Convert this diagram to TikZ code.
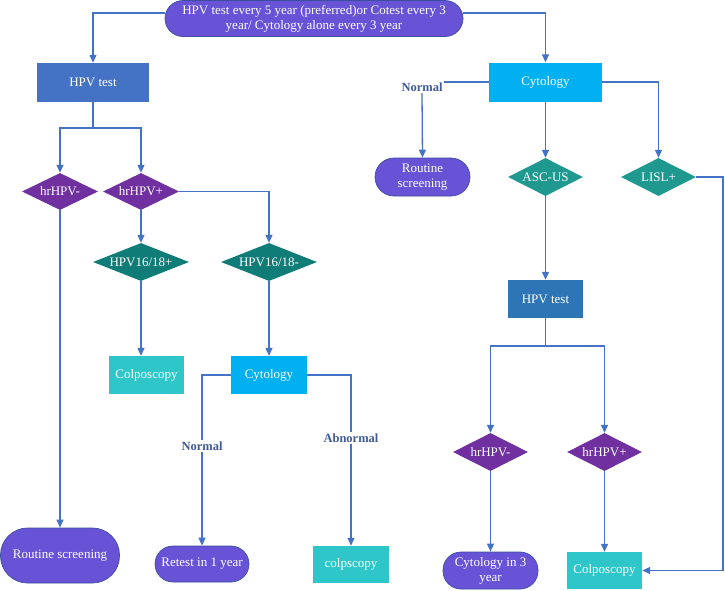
\documentclass[tikz,border=0pt]{standalone}
\usepackage{fontspec}
\setmainfont{Liberation Serif}
\usetikzlibrary{arrows.meta,shapes.geometric}
\definecolor{lineblue}{RGB}{68,114,196}
\definecolor{termfill}{RGB}{104,82,214}
\definecolor{termdraw}{RGB}{60,78,160}
\definecolor{purp}{RGB}{112,48,160}
\definecolor{tealdark}{RGB}{16,124,120}
\definecolor{teallight}{RGB}{31,152,144}
\definecolor{turq}{RGB}{46,198,200}
\definecolor{cyan}{RGB}{0,176,240}
\definecolor{hpvblue}{RGB}{68,114,196}
\definecolor{hpvblueb}{RGB}{46,117,182}
\definecolor{lblcol}{RGB}{63,90,150}
\tikzset{
  every node/.style={font=\fontsize{13}{15}\selectfont},
  boxnode/.style={rectangle, text=white, inner sep=1pt, align=center},
  termnode/.style={rectangle, text=white, fill=termfill, draw=termdraw, line width=0.7pt, inner sep=1pt, align=center},
  dianode/.style={diamond, aspect=2.5, text=white, inner sep=0pt, align=center},
  conn/.style={draw=lineblue, line width=1.3pt},
  arr/.style={conn, -{Triangle[length=8pt,width=7pt]}},
  lblnode/.style={text=lblcol, font=\fontsize{12.5}{15}\selectfont\bfseries, fill=white, inner sep=1.5pt}
}
\begin{document}
\begin{tikzpicture}[x=1pt,y=-1pt]
\useasboundingbox (0,0) rectangle (725,590);
% nodes
\node[termnode, minimum width=298pt, minimum height=36pt, rounded corners=18pt] (top) at (314,18.5) {HPV test every 5 year (preferred)or Cotest every 3\\year/ Cytology alone every 3 year};
\node[boxnode, fill=hpvblue, minimum width=112pt, minimum height=39pt] (hpvA) at (93,82.5) {HPV test};
\node[boxnode, fill=cyan, minimum width=113pt, minimum height=39pt] (cytoR) at (545.5,82) {Cytology};
\node[dianode, fill=purp, minimum width=76pt, minimum height=37pt] (negA) at (60,191.5) {hrHPV-};
\node[dianode, fill=purp, minimum width=76pt, minimum height=37pt] (posA) at (141,191.5) {hrHPV+};
\node[dianode, fill=tealdark, minimum width=96pt, minimum height=38pt] (hpvp) at (141,262) {HPV16/18+};
\node[dianode, fill=tealdark, minimum width=96pt, minimum height=38pt] (hpvn) at (269,262) {HPV16/18-};
\node[boxnode, fill=turq, minimum width=75pt, minimum height=38pt] (colpA) at (146.5,375) {Colposcopy};
\node[boxnode, fill=cyan, minimum width=76pt, minimum height=38pt] (cytoL) at (269,375) {Cytology};
\node[termnode, minimum width=119pt, minimum height=55pt, rounded corners=27pt] (routA) at (60,555.5) {Routine screening};
\node[termnode, minimum width=94pt, minimum height=36pt, rounded corners=18pt] (retest) at (202,564) {Retest in 1 year};
\node[boxnode, fill=turq, minimum width=76pt, minimum height=37pt] (colpB) at (351,564.5) {colpscopy};
\node[termnode, minimum width=95pt, minimum height=38pt, rounded corners=19pt] (routB) at (422.5,177) {Routine\\screening};
\node[dianode, fill=teallight, minimum width=75pt, minimum height=38pt] (ascus) at (545.5,177) {ASC-US};
\node[dianode, fill=teallight, minimum width=75pt, minimum height=38pt] (lisl) at (658.5,177) {LISL+};
\node[boxnode, fill=hpvblueb, minimum width=75pt, minimum height=38pt] (hpvB) at (545.5,299) {HPV test};
\node[dianode, fill=purp, minimum width=75pt, minimum height=38pt] (negB) at (490.5,452) {hrHPV-};
\node[dianode, fill=purp, minimum width=75pt, minimum height=38pt] (posB) at (604.5,452) {hrHPV+};
\node[termnode, minimum width=95pt, minimum height=37pt, rounded corners=18pt] (cyto3) at (490.5,570.5) {Cytology in 3\\year};
\node[boxnode, fill=turq, minimum width=75pt, minimum height=37pt] (colpC) at (604.5,570.5) {Colposcopy};
\coordinate (splitA) at (93,128);
\coordinate (splitB) at (545.5,346);
\coordinate (rturn) at (723,177);
% connectors
\draw[arr] ([yshift=5.5pt]top.west) -| (hpvA.north);
\draw[arr] ([yshift=5.5pt]top.east) -| (cytoR.north);
\draw[conn] (hpvA.south) -- (splitA);
\draw[arr] (splitA) -| (negA.north);
\draw[arr] (splitA) -| (posA.north);
\draw[arr] (posA.east) -| (hpvn.north);
\draw[arr] (posA.south) -- (hpvp.north);
\draw[arr] (negA.south) -- (routA.north);
\draw[arr] (hpvp.south) -- (hpvp.south |- colpA.north);
\draw[arr] (hpvn.south) -- (cytoL.north);
\draw[arr] (cytoL.west) -| (retest.north);
\draw[arr] (cytoL.east) -| (colpB.north);
\node[lblnode] (nl) at (202,446) {Normal};
\node[lblnode] (ab) at (351,438) {Abnormal};
\node[lblnode, fill=none] (nr) at (422,87) {Normal};
\draw[conn] (cytoR.west) -- (cytoR.west -| nr.east);
\draw[arr] (nr.south) -- (routB.north);
\draw[arr] (cytoR.south) -- (ascus.north);
\draw[arr] (cytoR.east) -| (lisl.north);
\draw[arr] (lisl.east) -- (rturn) |- (colpC.east);
\draw[arr] (ascus.south) -- (hpvB.north);
\draw[conn] (hpvB.south) -- (splitB);
\draw[arr] (splitB) -| (negB.north);
\draw[arr] (splitB) -| (posB.north);
\draw[arr] (negB.south) -- (cyto3.north);
\draw[arr] (posB.south) -- (colpC.north);
\end{tikzpicture}
\end{document}
